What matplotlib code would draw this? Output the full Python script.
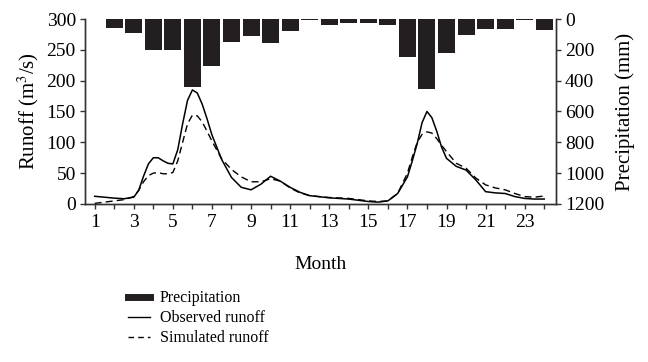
import matplotlib
matplotlib.use("Agg")
import matplotlib.pyplot as plt
from matplotlib.lines import Line2D

plt.rcParams['font.family'] = ['Liberation Serif', 'DejaVu Serif']
plt.rcParams['mathtext.fontset'] = 'stix'

# monthly precipitation (mm), month 1..24
months = list(range(1, 25))
precip = [0, 60, 93, 201, 201, 439, 303, 151, 110, 158, 80, 8,
          37, 28, 28, 39, 249, 452, 223, 104, 67, 67, 8, 71]

# runoff curves (m3/s)
t = [1, 1.5, 2, 2.5, 3, 3.25, 3.5, 3.75, 4, 4.25, 4.5, 4.75, 5, 5.25, 5.5, 5.75,
     6, 6.25, 6.5, 6.75, 7, 7.5, 8, 8.5, 9, 9.5, 10, 10.5, 11, 11.5, 12, 13,
     14, 15, 15.5, 16, 16.5, 17, 17.25, 17.5, 17.75, 18, 18.25, 18.5, 18.75, 19,
     19.5, 20, 20.5, 21, 21.5, 22, 22.5, 23, 23.5, 24]
observed = [12.5, 11, 9.5, 8.5, 11, 22, 45, 65, 75, 75, 70, 66, 65, 88, 130, 168,
            185, 180, 162, 138, 112, 72, 43, 27, 23, 32, 45, 37, 27, 19, 13.5, 10,
            8, 4, 3, 5, 17, 44, 70, 98, 132, 150, 140, 118, 92, 74,
            61, 55, 39, 20, 18, 17, 12, 9, 8, 8]
simulated = [1, 3, 5, 7, 12, 22, 36, 46, 50, 51, 49, 49, 51, 70, 100, 130,
             144, 143, 133, 118, 102, 73, 56, 44, 36, 36, 41, 37, 26, 18, 13.5, 10.5,
             9, 5, 4, 5, 17, 50, 76, 100, 113, 117, 115, 106, 95, 85,
             66, 58, 42, 31, 26, 23, 17, 12, 11, 13]

fig = plt.figure(figsize=(6.48, 3.62), dpi=100)
ax = fig.add_axes([0.131, 0.4365, 0.727, 0.511])
ax2 = ax.twinx()

ax.plot(t, observed, color='black', lw=1.1)
ax.plot(t, simulated, color='black', lw=1.0, ls=(0, (5, 3)))
ax2.bar(months, precip, width=0.87, color='#231f20')

ax.set_xlim(0.5, 24.6)
ax.set_ylim(0, 300)
ax.set_yticks(range(0, 301, 50))
ax.set_xticks(range(1, 25))
ax.set_xticklabels([str(m) if m % 2 == 1 else '' for m in months])
ax2.set_ylim(1200, 0)
ax2.set_yticks(range(0, 1201, 200))

for a in (ax, ax2):
    a.spines['top'].set_visible(False)
    for s in a.spines.values():
        s.set_color('#333333')
        s.set_linewidth(1.0)
    a.tick_params(direction='out', length=3.5, width=1.0, color='#333333',
                  labelsize=14, pad=3)
ax.tick_params(axis='x', pad=4)

ax.set_ylabel('Runoff (m$^3$/s)', fontsize=15, labelpad=4)
ax2.set_ylabel('Precipitation (mm)', fontsize=15, labelpad=8)
ax.set_xlabel('Month', fontsize=14, labelpad=18)

handles = [Line2D([], [], color='#231f20', lw=5),
           Line2D([], [], color='black', lw=1.0),
           Line2D([], [], color='black', lw=1.0, ls=(0, (4, 3)))]
labels = ['Precipitation', 'Observed runoff', 'Simulated runoff']
fig.legend(handles, labels, loc='upper left', bbox_to_anchor=(0.197, 0.198),
           frameon=False, fontsize=11.5, handlelength=1.4, handletextpad=0.6,
           labelspacing=0.25, borderaxespad=0, borderpad=0)

fig.savefig('out.png', dpi=100)
